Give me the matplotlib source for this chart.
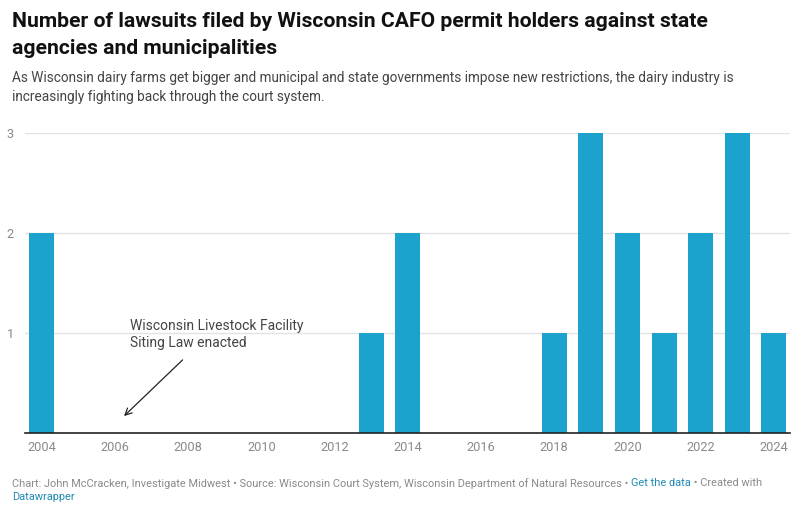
import matplotlib
matplotlib.use("Agg")
import matplotlib.pyplot as plt

years = [2004, 2013, 2014, 2018, 2019, 2020, 2021, 2022, 2023, 2024]
lawsuits = [2, 1, 2, 1, 3, 2, 1, 2, 3, 1]
xticks = list(range(2004, 2025, 2))
yticks = [1, 2, 3]

title = "Number of lawsuits filed by Wisconsin CAFO permit holders against state\nagencies and municipalities"
subtitle = ("As Wisconsin dairy farms get bigger and municipal and state governments impose new restrictions, the dairy industry is\n"
            "increasingly fighting back through the court system.")
annotation = "Wisconsin Livestock Facility\nSiting Law enacted"

plt.rcParams['font.family'] = ['Roboto', 'DejaVu Sans']

W, H = 798, 507
fig = plt.figure(figsize=(W / 100, H / 100), dpi=100)
fig.patch.set_facecolor("white")

ax = fig.add_axes([25 / W, 1 - 433 / H, (790 - 25) / W, 300 / H])
ax.bar(years, lawsuits, width=0.68, color="#1ba2cd", zorder=2)
ax.set_xlim(2003.54, 2024.44)
ax.set_ylim(0, 3)
ax.set_yticks(yticks)
ax.set_yticklabels([str(v) for v in yticks])
ax.set_xticks(xticks)
ax.set_xticklabels([str(v) for v in xticks])
ax.grid(axis="y", color="#e3e3e3", linewidth=1, zorder=0)
ax.tick_params(axis="both", length=0, colors="#8a8a8a", labelsize=9.2)
ax.tick_params(axis="y", pad=8)
ax.tick_params(axis="x", pad=6)
for s in ["top", "right", "left"]:
    ax.spines[s].set_visible(False)
ax.spines["bottom"].set_color("#222222")
ax.spines["bottom"].set_linewidth(1.2)
ax.spines["bottom"].set_zorder(3)

ax.annotate("", xy=(2006.19, 0.15), xytext=(2007.9, 0.75),
            arrowprops=dict(arrowstyle="->", color="#222222", lw=0.9, mutation_scale=12))
ax.text(2006.4, 1.14, annotation, fontsize=10, color="#444444", va="top", ha="left",
        linespacing=1.25)

fig.text(12 / W, 1 - 12 / H, title, fontsize=15.2, fontweight="bold", color="#111111",
         va="top", ha="left", linespacing=1.5)
fig.text(12 / W, 1 - 71 / H, subtitle, fontsize=9.8, color="#444444",
         va="top", ha="left", linespacing=1.5)

# footer with mixed colors
fig.canvas.draw()
renderer = fig.canvas.get_renderer()
gray = "#8a8a8a"
blue = "#1f8bb3"
parts = [("Chart: John McCracken, Investigate Midwest \u2022 Source: Wisconsin Court System, Wisconsin Department of Natural Resources \u2022 ", gray),
         ("Get the data", blue),
         (" \u2022 Created with", gray)]
x = 12
y1 = 1 - 478 / H
for txt, col in parts:
    t = fig.text(x / W, y1, txt, fontsize=7.9, color=col, va="top", ha="left")
    bb = t.get_window_extent(renderer)
    x += bb.width
fig.text(12 / W, 1 - 492 / H, "Datawrapper", fontsize=7.9, color=blue, va="top", ha="left")

fig.savefig("out.png", dpi=100, facecolor="white")
